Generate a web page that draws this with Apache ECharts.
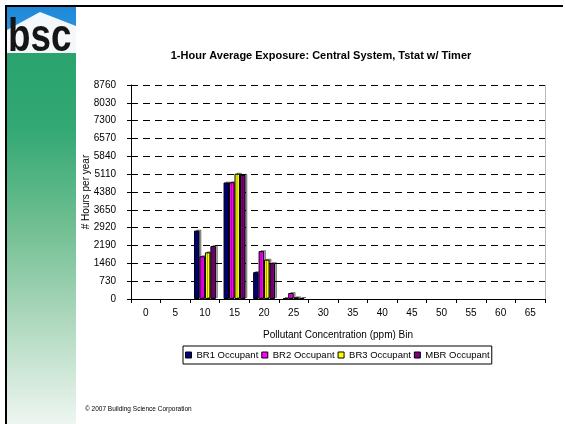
<!DOCTYPE html>
<html><head><meta charset="utf-8">
<script src="https://cdn.jsdelivr.net/npm/echarts@6/dist/echarts.min.js"></script>
<style>html,body{margin:0;padding:0;background:#fff}#c{width:565px;height:424px}</style>
</head><body><div id="c"></div>
<script>
const categories = ['0','5','10','15','20','25','30','35','40','45','50','55','60','65'];
const br1 = [0, 0, 2800, 4770, 1100, 30, 0, 0, 0, 0, 0, 0, 0, 0];
const br2 = [0, 0, 1750, 4780, 1960, 245, 0, 0, 0, 0, 0, 0, 0, 0];
const br3 = [0, 0, 1910, 5130, 1610, 70, 0, 0, 0, 0, 0, 0, 0, 0];
const mbr = [0, 0, 2170, 5080, 1470, 40, 0, 0, 0, 0, 0, 0, 0, 0];
const seriesNames = ['BR1 Occupant','BR2 Occupant','BR3 Occupant','MBR Occupant'];
const seriesColors = ['#000080','#ff00ff','#ffff00','#800080'];
const seriesData = [br1, br2, br3, mbr];

const font = 'Liberation Sans, Arial, sans-serif';
const chart = echarts.init(document.getElementById('c'), null, {renderer:'canvas'});
chart.setOption({
  backgroundColor:'#fff',
  animation:false,
  title:{text:'1-Hour Average Exposure: Central System, Tstat w/ Timer', left:316, top:45, textAlign:'center',
    textStyle:{fontFamily:font, fontSize:11, fontWeight:'bold', color:'#000'}},
  grid:{left:131, right:20, top:85, bottom:125},
  legend:{left:183, top:346, data:seriesNames, itemWidth:6, itemHeight:6, itemGap:3,
    borderColor:'#000', borderWidth:1, padding:[4,2,4,2], icon:'rect',
    textStyle:{fontFamily:font, fontSize:9.5, color:'#000'},
    itemStyle:{borderColor:'#000', borderWidth:1}},
  xAxis:{type:'category', data:categories,
    axisLine:{lineStyle:{color:'#000', width:1}},
    axisTick:{show:true, inside:false, length:4, lineStyle:{color:'#000'}},
    axisLabel:{fontFamily:font, fontSize:10, color:'#000', margin:9},
    name:'Pollutant Concentration (ppm) Bin', nameLocation:'middle', nameGap:31,
    nameTextStyle:{fontFamily:font, fontSize:10, color:'#000'}},
  yAxis:{type:'value', min:0, max:8760, interval:730,
    axisLine:{show:true, lineStyle:{color:'#000', width:1}},
    axisTick:{show:true, length:4, lineStyle:{color:'#000'}},
    axisLabel:{fontFamily:font, fontSize:10, color:'#000', margin:15, formatter:v=>String(v)},
    splitLine:{lineStyle:{color:'#000', type:[7,5], width:1}},
    name:'# Hours per year', nameLocation:'middle', nameGap:40, nameRotate:90, nameMoveOverlap:false,
    nameTextStyle:{fontFamily:font, fontSize:10, color:'#000'}},
  series: seriesData.map((d,i)=>({
    type:'bar', name:seriesNames[i], data:d.map(v=>v===0?null:v), barGap:'0%', barCategoryGap:'26%',
    itemStyle:{color:seriesColors[i], borderColor:'#000', borderWidth:1,
      shadowColor:'rgba(0,0,0,0.35)', shadowOffsetX:2, shadowOffsetY:-1, shadowBlur:0}
  })),
  graphic:[
    {type:'rect', z:-1, shape:{x:5, y:5, width:558, height:2}, style:{fill:'#000'}},
    {type:'rect', z:-1, shape:{x:5, y:5, width:2, height:419}, style:{fill:'#000'}},
    {type:'rect', z:-1, shape:{x:7, y:7, width:69, height:47},
      style:{fill:new echarts.graphic.LinearGradient(0,0,0,1,[{offset:0,color:'#1e88d8'},{offset:1,color:'#3a9ee0'}])}},
    {type:'polygon', z:-1, shape:{points:[[7,30],[40,12],[76,26],[76,54],[7,54]]}, style:{fill:'#f4f8fb'}},
    {type:'rect', z:-1, shape:{x:7, y:53, width:69, height:371},
      style:{fill:new echarts.graphic.LinearGradient(0,0,0,1,[
        {offset:0,color:'#2aa36e'},{offset:0.2,color:'#32a874'},{offset:0.45,color:'#6cbd8f'},
        {offset:0.7,color:'#a9d6ba'},{offset:1,color:'#eef6f1'}])}},
    {type:'text', z:5, x:8, y:15, scaleX:0.8,
      style:{text:'bsc', font:'bold 46px "Liberation Sans", Arial', fill:'#151515'}},
    {type:'line', z:1, shape:{x1:545.5, y1:85, x2:545.5, y2:299}, style:{stroke:'#bbb', lineWidth:1}},
    {type:'text', x:85, y:406, style:{text:'\u00a9 2007 Building Science Corporation', font:'6.5px "Liberation Sans", Arial', fill:'#000'}}
  ]
});
</script></body></html>
